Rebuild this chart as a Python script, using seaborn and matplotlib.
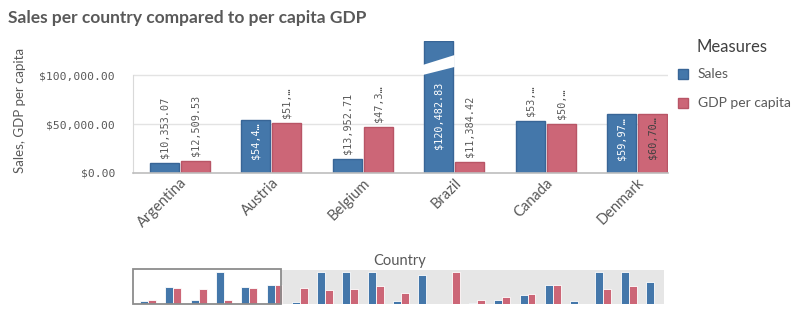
import numpy as np
import pandas as pd
import matplotlib
matplotlib.use("Agg")
import matplotlib.pyplot as plt
import seaborn as sns
from matplotlib.patches import Rectangle, Polygon

# ---------------- data ----------------
countries = ["Argentina", "Austria", "Belgium", "Brazil", "Canada", "Denmark",
             "Finland", "France", "Germany", "India", "Ireland", "Italy",
             "Luxembourg", "Mexico", "Netherlands", "Norway", "Poland",
             "Portugal", "Sweden", "Switzerland", "USA"]
sales = [10353.07, 54420.00, 13952.71, 120482.83, 53400.00, 59970.00,
         5000, 150000, 140000, 135000, 10000, 90000,
         np.nan, 2500, 12500, 27000, 58000,
         10000, 160000, 145000, 69000]
gdp = [12509.53, 51300.00, 47300.00, 11384.42, 50200.00, 60700.00,
       51000, 43000, 48000, 56000, 35000, np.nan,
       105000, 12500, 22000, 30000, 60000,
       np.nan, 46000, 56000, np.nan]
measures = ["Sales", "GDP per capita"]
y_ticks = [0, 50000, 100000]
n_visible = 6
title = "Sales per country compared to per capita GDP"
y_label = "Sales, GDP per capita"
x_label = "Country"
legend_title = "Measures"

# ---------------- style ----------------
BLUE, RED = "#4477aa", "#cc6677"
BLUE_EDGE, RED_EDGE = "#386596", "#b85566"
TXT = "#595959"
sns.set_style("white")
plt.rcParams["font.family"] = ["Lato", "DejaVu Sans"]
MONO = "DejaVu Sans Mono"

W, H = 800, 325
fig = plt.figure(figsize=(W / 100, H / 100), dpi=100)
fig.patch.set_facecolor("white")


def fx(px):
    return px / W


def fy(py):
    return 1 - py / H


n = len(countries)
df = pd.DataFrame({
    "Country": countries * 2,
    "Measure": ["Sales"] * n + ["GDP per capita"] * n,
    "Value": list(sales) + list(gdp),
})

# ---------------- main chart ----------------
AX_L, AX_R, AX_T, AX_B = 133, 668, 41, 173
ax = fig.add_axes([fx(AX_L), fy(AX_B), fx(AX_R) - fx(AX_L), fy(AX_T) - fy(AX_B)])
Y_TOP = 134700
BREAK_LIMIT = 110000   # values above this are drawn as broken bars reaching the top
main_df = df[df["Country"].isin(countries[:n_visible])].copy()
main_df["Shown"] = main_df["Value"].where(main_df["Value"] <= BREAK_LIMIT, Y_TOP)
sns.barplot(data=main_df, x="Country", y="Shown", hue="Measure",
            order=countries[:n_visible], hue_order=measures,
            palette=[BLUE, RED], saturation=1, width=0.68, gap=0.065,
            legend=False, ax=ax, zorder=3)
for cont, ec in zip(ax.containers, [BLUE_EDGE, RED_EDGE]):
    for p in cont:
        p.set_edgecolor(ec)
        p.set_linewidth(1.0)

ax.set_ylim(0, Y_TOP)
ax.set_xlim(-0.514, 5.339)
for yv in y_ticks[1:]:
    ax.axhline(yv, color="#e3e3e3", lw=1, zorder=1)
ax.set_yticks(y_ticks)
ax.set_yticklabels([f"${v:,.2f}" for v in y_ticks], family=MONO, fontsize=8.2, color=TXT)
ax.tick_params(axis="y", length=10, width=1, color="#d9d9d9", pad=3)
ax.set_xticks(range(n_visible))
ax.set_xticklabels(countries[:n_visible], rotation=45, ha="right", va="top",
                   rotation_mode="anchor", fontsize=10.5, color=TXT)
ax.tick_params(axis="x", length=0, pad=2)
ax.set_xlabel("")
ax.set_ylabel("")
for s in ["top", "right"]:
    ax.spines[s].set_visible(False)
ax.spines["left"].set_color("#d9d9d9")
ax.spines["left"].set_bounds(0, 100000)
ax.spines["bottom"].set_color("#bdbdbd")
ax.spines["bottom"].set_linewidth(1.2)
ax.spines["bottom"].set_zorder(4)

ppu = (AX_B - AX_T) / Y_TOP  # pixels per unit
BREAK_LOW = 100000
PX2PT = 0.72
LABEL_FS = 7.3
CHAR_PX = 0.602 * LABEL_FS / 72 * 100
OUT_LIMIT = 90000
INSIDE_MIN = 54000

for hi, cont in enumerate(ax.containers):
    vals = (sales if hi == 0 else gdp)[:n_visible]
    for p, v in zip(cont, vals):
        x0 = p.get_x()
        x1 = x0 + p.get_width()
        xc = (x0 + x1) / 2
        broken = v > BREAK_LIMIT
        if broken:
            d = (x1 - x0) * 0.05
            ax.add_patch(Polygon([(x0 - d, BREAK_LOW), (x1 + d, BREAK_LOW + 8200),
                                  (x1 + d, BREAK_LOW + 20400), (x0 - d, BREAK_LOW + 10200)],
                                 closed=True, facecolor="white", edgecolor="none", zorder=5))
        full = f"${v:,.2f}"
        inside = v >= INSIDE_MIN
        if inside:
            top_val = BREAK_LOW if broken else v
            pad = 7 if broken else 3
            avail = top_val * ppu - pad - 9
        else:
            pad = 5
            avail = (OUT_LIMIT - v) * ppu - pad
        cells = int(avail // CHAR_PX)
        txt = full if len(full) <= cells else full[:max(cells - 1, 1)] + "\u2026"
        if inside:
            col = "white" if hi == 0 else "#404040"
            ax.annotate(txt, xy=(xc, top_val), xytext=(0, -pad * PX2PT),
                        textcoords="offset points", rotation=90, ha="center", va="top",
                        family=MONO, fontsize=LABEL_FS, color=col, zorder=6)
        else:
            ax.annotate(txt, xy=(xc, v), xytext=(0, pad * PX2PT),
                        textcoords="offset points", rotation=90, ha="center", va="bottom",
                        family=MONO, fontsize=LABEL_FS, color=TXT, zorder=6)

# ---------------- texts ----------------
fig.text(fx(8), fy(18), title, fontsize=12.5, fontweight="bold", color=TXT,
         ha="left", va="center")
fig.text(fx(20), fy(110), y_label, rotation=90, fontsize=9.5, color=TXT,
         ha="center", va="center")
fig.text(fx(400), fy(261), x_label, fontsize=10.5, color=TXT, ha="center", va="center")

# legend
fig.text(fx(697), fy(47), legend_title, fontsize=12, color="#404040", ha="left", va="center")
for i, (lab, c, ec) in enumerate(zip(measures, [BLUE, RED], [BLUE_EDGE, RED_EDGE])):
    yc = 74 + i * 29
    fig.add_artist(Rectangle((fx(678), fy(yc + 5)), 10 / W, 10 / H, transform=fig.transFigure,
                             facecolor=c, edgecolor=ec, lw=1))
    fig.text(fx(698), fy(yc), lab, fontsize=10, color=TXT, ha="left", va="center")

# ---------------- mini (scroll) chart ----------------
M_T, M_B = 270, 304
axm = fig.add_axes([fx(AX_L), fy(M_B), fx(AX_R) - fx(AX_L), fy(M_T) - fy(M_B)])
MINI_MAX = 100000
MINI_TOP = MINI_MAX * (M_B - M_T) / 32
mini_df = df.copy()
mini_df["Shown"] = mini_df["Value"].clip(upper=MINI_MAX)
sns.barplot(data=mini_df, x="Country", y="Shown", hue="Measure", order=countries,
            hue_order=measures, palette=[BLUE, RED], saturation=1, width=0.63, gap=0,
            legend=False, ax=axm, zorder=3, edgecolor="white", linewidth=0.6)
axm.set_xlim(-0.593, 20.553)
axm.set_ylim(0, MINI_TOP)
axm.axis("off")
win_right = 5.257
axm.add_patch(Rectangle((win_right, 0), 20.4 - win_right, 1, transform=axm.get_xaxis_transform(),
                        facecolor="#e6e6e6", edgecolor="none", zorder=0))
axm.add_patch(Rectangle((-0.593, 0), win_right + 0.593, 1.03, transform=axm.get_xaxis_transform(),
                        facecolor="none", edgecolor="#8c8c8c", lw=1.3, zorder=6, clip_on=False))

fig.savefig("out.png", dpi=100, facecolor="white")
